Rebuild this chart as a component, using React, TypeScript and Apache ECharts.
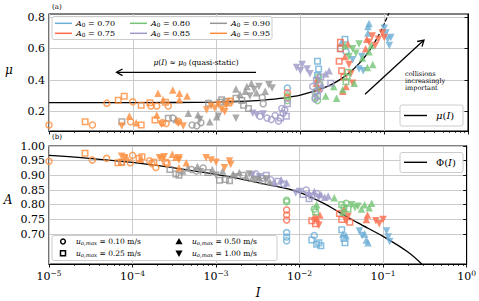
import React, { useEffect, useRef } from 'react';
import * as echarts from 'echarts';

type Pt = [number, number, string];

const A0_LABELS = ['0.70', '0.75', '0.80', '0.85', '0.90', '0.95'];
const COLORS = ['#6baed6', '#fb6a4a', '#74c476', '#9e9ac8', '#969696', '#fd8d3c'];
const U_LABELS = ['0.10', '0.25', '0.50', '1.00'];
const U_MARKERS = ['o', 's', '^', 'v'];

// ---- friction coefficient mu (top panel) ----
const MU_070: Pt[] = [
  [7.0e-3, 0.35, 'o'], [1.6e-2, 0.52, 's'], [1.65e-2, 0.47, 's'], [1.6e-2, 0.43, 's'],
  [3.0e-2, 0.6, 's'], [3.1e-2, 0.64, '^'], [3.4e-2, 0.66, 's'], [3.5e-2, 0.58, 'o'],
  [4.2e-2, 0.53, 'v'], [5.0e-2, 0.47, 'v'], [5.6e-2, 0.46, 'v'], [5.4e-2, 0.55, 'v'],
  [6.4e-2, 0.74, '^'], [6.4e-2, 0.7, '^'], [6.6e-2, 0.76, '^'],
  [1.05e-1, 0.7, 'v'], [1.1e-1, 0.66, 'v'], [1.15e-1, 0.62, 'v'], [1.2e-1, 0.67, 'v'], [1.0e-1, 0.73, 'v'],
];
const MU_075: Pt[] = [
  [7.0e-3, 0.29, 'o'], [7.0e-3, 0.32, 'o'], [1.55e-2, 0.38, '^'], [1.6e-2, 0.41, '^'], [1.65e-2, 0.35, '^'],
  [2.9e-2, 0.52, 's'], [3.0e-2, 0.6, 's'], [3.1e-2, 0.46, 's'], [3.3e-2, 0.42, 's'], [3.0e-2, 0.64, 's'],
  [3.4e-2, 0.55, '^'], [3.5e-2, 0.36, '^'], [3.7e-2, 0.63, '^'], [3.8e-2, 0.5, 'v'], [4.0e-2, 0.44, 'v'],
  [4.2e-2, 0.38, 'v'], [3.2e-2, 0.33, '^'], [6.0e-2, 0.6, '^'], [6.2e-2, 0.66, '^'],
  [6.6e-2, 0.64, 'v'], [7.2e-2, 0.68, 'v'], [7.8e-2, 0.62, 'v'], [8.5e-2, 0.66, 'v'], [9.5e-2, 0.7, 'v'], [1.0e-1, 0.67, 'v'],
];
const MU_080: Pt[] = [
  [7.0e-3, 0.30, 'o'], [7.0e-3, 0.27, 'o'], [1.5e-2, 0.29, 'o'], [1.55e-2, 0.33, 'o'], [1.6e-2, 0.27, 'o'],
  [1.65e-2, 0.42, 'o'], [1.7e-2, 0.37, 's'], [2.0e-2, 0.3, '^'], [2.5e-2, 0.36, '^'], [2.7e-2, 0.285, '^'],
  [3.2e-2, 0.34, '^'], [3.5e-2, 0.39, 's'], [3.6e-2, 0.42, 's'], [3.7e-2, 0.45, 's'], [3.4e-2, 0.62, '^'],
  [3.8e-2, 0.55, 'v'], [4.2e-2, 0.6, 'v'], [4.6e-2, 0.57, 'v'], [5.0e-2, 0.63, 'v'], [5.5e-2, 0.54, '^'],
  [4.4e-2, 0.38, '^'], [6.3e-2, 0.48, '^'], [6.6e-2, 0.58, '^'], [7.0e-2, 0.62, '^'], [7.3e-2, 0.5, '^'],
];
const MU_085: Pt[] = [
  [2.7e-3, 0.19, 'v'], [3.0e-3, 0.18, 'v'], [3.3e-3, 0.17, 'o'], [3.6e-3, 0.185, 'v'], [4.0e-3, 0.16, 'o'],
  [4.5e-3, 0.15, 'o'], [5.0e-3, 0.175, 'o'], [5.5e-3, 0.14, 'o'], [5.8e-3, 0.16, 's'], [6.2e-3, 0.19, 'o'],
  [6.5e-3, 0.21, 'o'], [7.0e-3, 0.25, 's'], [6.8e-3, 0.17, 's'], [6.0e-3, 0.22, 'o'],
  [9.0e-3, 0.48, 'v'], [1.0e-2, 0.46, 'v'], [1.05e-2, 0.5, 'v'], [1.2e-2, 0.47, 'v'], [1.3e-2, 0.44, 'v'],
  [1.4e-2, 0.36, 'o'], [1.5e-2, 0.32, 'o'], [1.55e-2, 0.4, 's'], [1.6e-2, 0.3, 's'], [1.7e-2, 0.34, 'o'],
  [1.75e-2, 0.42, 's'], [1.8e-2, 0.37, '^'], [2.0e-2, 0.44, '^'], [2.2e-2, 0.46, '^'], [2.3e-2, 0.38, 's'], [1.5e-2, 0.28, 'o'],
];
const MU_090: Pt[] = [
  [7.4e-5, 0.136, 's'], [2.65e-4, 0.158, 's'], [3.0e-4, 0.16, 'o'], [3.3e-4, 0.15, '^'], [4.6e-4, 0.19, '^'],
  [5.1e-4, 0.115, 'o'], [5.8e-4, 0.11, 'o'], [6.0e-4, 0.18, '^'], [6.3e-4, 0.15, 'v'], [6.5e-4, 0.13, 'o'],
  [8.0e-4, 0.254, 's'], [8.3e-4, 0.136, '^'], [1.0e-3, 0.168, '^'], [1.05e-3, 0.17, 'v'], [1.1e-3, 0.26, 's'],
  [1.15e-3, 0.275, 's'], [1.3e-3, 0.264, 's'], [1.7e-3, 0.343, '^'], [1.7e-3, 0.285, 's'], [1.7e-3, 0.158, 'v'],
  [1.9e-3, 0.31, '^'], [2.0e-3, 0.27, 's'], [2.1e-3, 0.24, 's'], [2.2e-3, 0.33, '^'], [2.3e-3, 0.36, '^'],
  [2.4e-3, 0.22, 's'], [2.5e-3, 0.30, 'v'], [2.6e-3, 0.38, '^'], [2.8e-3, 0.34, 'v'], [3.0e-3, 0.32, '^'],
  [3.2e-3, 0.36, 'v'], [3.5e-3, 0.29, 'o'], [3.6e-3, 0.25, 'o'], [3.8e-3, 0.33, '^'], [4.2e-3, 0.37, 'v'], [4.6e-3, 0.35, 'v'],
];
const MU_095: Pt[] = [
  [1.0e-5, 0.115, 'o'], [2.7e-5, 0.136, 's'], [3.3e-5, 0.115, 'o'], [4.9e-5, 0.254, 'o'], [6.7e-5, 0.272, 's'],
  [7.9e-5, 0.298, 's'], [7.4e-5, 0.108, 'v'], [9.1e-5, 0.173, '^'], [9.4e-5, 0.136, 'o'], [1.0e-4, 0.262, 'o'],
  [1.1e-4, 0.13, '^'], [1.26e-4, 0.115, 's'], [1.26e-4, 0.24, 's'], [1.6e-4, 0.257, 's'], [1.65e-4, 0.236, 'o'],
  [1.84e-4, 0.147, 's'], [1.93e-4, 0.236, 'o'], [1.93e-4, 0.178, '^'], [2.0e-4, 0.317, '^'], [2.2e-4, 0.12, 'v'],
  [2.26e-4, 0.13, 'o'], [2.3e-4, 0.275, '^'], [2.45e-4, 0.26, 's'], [2.5e-4, 0.125, 'o'], [2.65e-4, 0.236, 'o'],
  [3.0e-4, 0.338, '^'], [3.5e-4, 0.126, 'v'], [3.5e-4, 0.138, 'o'], [3.6e-4, 0.317, '^'], [3.6e-4, 0.275, '^'],
  [4.0e-4, 0.109, 'v'], [4.45e-4, 0.30, '^'], [7.6e-4, 0.21, 'v'], [8.6e-4, 0.235, 'v'], [9.5e-4, 0.222, 'v'],
  [1.05e-3, 0.245, 'v'], [1.15e-3, 0.215, 'v'], [1.25e-3, 0.2, 'v'], [1.3e-3, 0.24, 'v'], [1.4e-3, 0.255, 's'], [1.45e-3, 0.268, 's'],
];

// ---- solid fraction A (bottom panel) ----
const A_070: Pt[] = [
  [7.0e-3, 0.705, 'o'], [7.0e-3, 0.69, 'o'], [7.0e-3, 0.677, 'o'], [1.4e-2, 0.68, 's'], [1.5e-2, 0.695, 'o'],
  [1.6e-2, 0.665, 's'], [1.7e-2, 0.67, 's'], [1.8e-2, 0.66, 's'], [3.2e-2, 0.715, 's'], [3.3e-2, 0.70, '^'],
  [3.4e-2, 0.685, 's'], [3.5e-2, 0.67, 's'], [3.6e-2, 0.695, '^'], [5.2e-2, 0.71, 'v'], [5.6e-2, 0.695, 'v'],
  [6.0e-2, 0.70, '^'], [6.3e-2, 0.68, '^'], [6.6e-2, 0.67, '^'], [1.1e-1, 0.71, 'v'], [1.15e-1, 0.69, 'v'], [1.2e-1, 0.675, 'v'],
];
const A_075: Pt[] = [
  [7.0e-3, 0.782, 'o'], [7.0e-3, 0.765, 'o'], [7.0e-3, 0.748, 'o'], [1.4e-2, 0.745, 's'], [1.5e-2, 0.76, '^'],
  [1.55e-2, 0.735, 's'], [1.6e-2, 0.755, '^'], [1.7e-2, 0.73, 'v'], [1.75e-2, 0.765, '^'], [3.0e-2, 0.77, 's'],
  [3.2e-2, 0.75, 's'], [3.4e-2, 0.785, '^'], [3.6e-2, 0.745, 'v'], [3.8e-2, 0.76, 'v'], [4.0e-2, 0.74, 's'],
  [6.3e-2, 0.75, '^'], [6.5e-2, 0.765, '^'], [8.2e-2, 0.745, 'v'], [9.0e-2, 0.735, 'v'], [1.0e-1, 0.75, 'v'],
];
const A_080: Pt[] = [
  [7.0e-3, 0.81, 'o'], [7.0e-3, 0.815, 'o'], [1.5e-2, 0.785, 'o'], [1.55e-2, 0.775, 's'], [1.6e-2, 0.8, '^'],
  [2.6e-2, 0.824, '^'], [3.2e-2, 0.80, 's'], [3.4e-2, 0.79, 's'], [3.6e-2, 0.805, 'o'], [3.8e-2, 0.785, 's'],
  [4.2e-2, 0.8, 'v'], [4.6e-2, 0.79, 'v'], [5.0e-2, 0.795, 'v'], [5.5e-2, 0.785, '^'], [6.0e-2, 0.8, '^'],
  [6.8e-2, 0.79, '^'], [7.3e-2, 0.805, '^'], [3.3e-2, 0.775, '^'],
];
const A_085: Pt[] = [
  [2.7e-3, 0.9, 'v'], [3.0e-3, 0.905, 'o'], [3.3e-3, 0.895, 'v'], [3.6e-3, 0.89, 'o'], [4.0e-3, 0.9, 's'],
  [4.5e-3, 0.885, 'o'], [5.0e-3, 0.875, '^'], [5.5e-3, 0.88, 's'], [6.0e-3, 0.885, '^'], [6.5e-3, 0.87, 'o'],
  [7.0e-3, 0.875, '^'], [9.0e-3, 0.84, 'v'], [1.0e-2, 0.845, 'v'], [1.1e-2, 0.835, 's'], [1.2e-2, 0.85, 'o'],
  [1.3e-2, 0.84, '^'], [1.4e-2, 0.83, 's'], [1.5e-2, 0.845, '^'], [1.6e-2, 0.838, 'o'], [1.7e-2, 0.825, 'v'],
  [1.8e-2, 0.835, '^'], [2.0e-2, 0.825, '^'], [2.2e-2, 0.83, '^'], [1.3e-2, 0.82, 's'],
];
const A_090: Pt[] = [
  [7.4e-5, 0.945, 's'], [2.8e-4, 0.92, 's'], [3.3e-4, 0.905, 's'], [3.6e-4, 0.90, 's'], [4.0e-4, 0.915, '^'],
  [4.6e-4, 0.925, '^'], [5.1e-4, 0.92, 'o'], [5.8e-4, 0.915, 'o'], [6.0e-4, 0.93, '^'], [6.5e-4, 0.912, 'v'],
  [7.0e-4, 0.925, 'o'], [8.0e-4, 0.91, 's'], [9.0e-4, 0.92, '^'], [1.0e-3, 0.9, 'v'], [1.1e-3, 0.883, 's'],
  [1.2e-3, 0.915, '^'], [1.3e-3, 0.886, 's'], [1.45e-3, 0.882, 's'], [1.6e-3, 0.905, '^'], [1.7e-3, 0.895, 'v'],
  [1.9e-3, 0.91, '^'], [2.1e-3, 0.9, 's'], [2.3e-3, 0.895, '^'], [2.5e-3, 0.905, 'v'], [2.7e-3, 0.89, '^'],
  [3.0e-3, 0.885, 'v'], [3.3e-3, 0.893, '^'], [3.6e-3, 0.88, 'o'], [4.0e-3, 0.888, 'v'], [4.4e-3, 0.878, '^'],
];
const A_095: Pt[] = [
  [1.0e-5, 0.948, 'o'], [2.7e-5, 0.975, 's'], [3.3e-5, 0.952, 'o'], [4.9e-5, 0.958, 'o'], [6.7e-5, 0.943, 's'],
  [7.4e-5, 0.945, 's'], [7.4e-5, 0.965, 'v'], [8.0e-5, 0.96, 'v'], [8.5e-5, 0.962, '^'], [9.4e-5, 0.943, 'o'],
  [1.0e-4, 0.968, 'o'], [1.2e-4, 0.958, 's'], [1.3e-4, 0.963, 's'], [1.25e-4, 0.955, '^'], [1.6e-4, 0.95, 'o'],
  [1.7e-4, 0.94, 'o'], [1.8e-4, 0.945, 's'], [1.9e-4, 0.927, 'o'], [2.1e-4, 0.96, 'v'], [2.25e-4, 0.955, 'v'],
  [2.4e-4, 0.963, 'v'], [2.5e-4, 0.945, 's'], [2.6e-4, 0.94, 'o'], [3.0e-4, 0.972, '^'], [3.3e-4, 0.962, '^'],
  [3.6e-4, 0.96, 'v'], [3.6e-4, 0.952, 'v'], [3.6e-4, 0.926, '^'], [4.4e-4, 0.943, '^'], [7.6e-4, 0.96, 'v'],
  [8.7e-4, 0.952, 'v'], [1.0e-3, 0.945, 'v'], [1.26e-3, 0.926, 'v'], [1.45e-3, 0.949, 'v'], [1.5e-3, 0.937, 'v'],
];

const MU_SETS = [MU_070, MU_075, MU_080, MU_085, MU_090, MU_095];
const A_SETS = [A_070, A_075, A_080, A_085, A_090, A_095];

// fitted laws
const MU_FIT: [number, number][] = [
  [1e-5, 0.257], [1e-4, 0.257], [1e-3, 0.261], [3e-3, 0.27], [6e-3, 0.286], [1e-2, 0.305], [2e-2, 0.355],
  [3e-2, 0.405], [4e-2, 0.455], [5e-2, 0.505], [6e-2, 0.555], [7e-2, 0.605],
];
const MU_FIT_EXT: [number, number][] = [[7e-2, 0.605], [8.5e-2, 0.68], [1e-1, 0.757], [1.15e-1, 0.832]];
const PHI_FIT: [number, number][] = [
  [1e-5, 0.968], [3e-5, 0.958], [1e-4, 0.944], [3e-4, 0.926], [1e-3, 0.903], [3e-3, 0.877], [6e-3, 0.859],
  [1e-2, 0.842], [2e-2, 0.803], [3e-2, 0.774], [5e-2, 0.738], [1e-1, 0.692], [2e-1, 0.638], [3e-1, 0.594],
];

const MU_TICKS = [0.2, 0.4, 0.6, 0.8];
const A_TICKS = [0.7, 0.75, 0.8, 0.85, 0.9, 0.95, 1.0];

const FONT = 'DejaVu Serif';

const MARK: Record<string, { symbol: string; size: number; hollow: boolean; rot: number }> = {
  o: { symbol: 'circle', size: 6, hollow: true, rot: 0 },
  s: { symbol: 'rect', size: 5.5, hollow: true, rot: 0 },
  '^': { symbol: 'triangle', size: 7.5, hollow: false, rot: 0 },
  v: { symbol: 'triangle', size: 7.5, hollow: false, rot: 180 },
};

function toItems(pts: Pt[], color: string) {
  return pts.map(([I, y, m]) => {
    const k = MARK[m];
    return {
      value: [Math.log10(I), y],
      symbol: k.symbol,
      symbolSize: k.size,
      symbolRotate: k.rot,
      itemStyle: k.hollow
        ? { color: 'rgba(255,255,255,0)', borderColor: color, borderWidth: 1.5 }
        : { color, borderColor: color, borderWidth: 0 },
    };
  });
}

const minorTicks: number[] = [];
for (let n = -5; n < 0; n++) for (let k = 2; k <= 9; k++) minorTicks.push(n + Math.log10(k));

export default function App() {
  const ref = useRef<HTMLDivElement>(null);
  useEffect(() => {
    if (!ref.current) return;
    const chart = echarts.init(ref.current, undefined, { renderer: 'svg' });
    const grid = '#cbcbcb';
    const majorX = (gi: number, labels: boolean) => ({
      gridIndex: gi, type: 'value', min: -5, max: 0, interval: 1,
      axisLine: { show: true, lineStyle: { color: '#000', width: 1 } },
      axisTick: { show: true, length: 3.5, lineStyle: { color: '#000', width: 0.9 } },
      splitLine: { show: true, lineStyle: { color: grid, width: 1 } },
      axisLabel: labels
        ? {
            show: true, margin: 5, color: '#000',
            formatter: (v: number) => `{b|10}{s|${v === 0 ? '0' : '−' + Math.abs(v)}}`,
            rich: {
              b: { fontFamily: FONT, fontSize: 11, color: '#000' },
              s: { fontFamily: FONT, fontSize: 7.5, color: '#000', padding: [0, 0, 7, 0] },
            },
          }
        : { show: false },
    });
    const minorX = (gi: number) => ({
      gridIndex: gi, type: 'value', min: -5, max: 0, position: 'bottom',
      axisLine: { show: false },
      axisTick: { show: true, length: 2, customValues: minorTicks, lineStyle: { color: '#000', width: 0.7 } },
      axisLabel: { show: false },
      splitLine: { show: false },
    });
    const yLab = { color: '#000', fontFamily: FONT, fontSize: 11, margin: 4 };
    const series: any[] = [];
    const curve = (data: [number, number][], xi: number, yi: number, dashed: boolean) => ({
      type: 'line', xAxisIndex: xi, yAxisIndex: yi, data: data.map(([i, v]) => [Math.log10(i), v]),
      showSymbol: false, symbol: 'none', smooth: 0.35,
      lineStyle: { color: '#000', width: 1.3, type: dashed ? [4, 2] : 'solid' }, z: 1, silent: true,
    });
    series.push(curve(MU_FIT, 0, 0, false));
    series.push(curve(MU_FIT_EXT, 0, 0, true));
    series.push(curve(PHI_FIT, 2, 1, false));
    A0_LABELS.forEach((lab, i) => {
      series.push({ type: 'scatter', name: 'A0 = ' + lab, xAxisIndex: 0, yAxisIndex: 0, data: toItems(MU_SETS[i], COLORS[i]), z: 2 + i, silent: true });
      series.push({ type: 'scatter', name: 'A0 = ' + lab, xAxisIndex: 2, yAxisIndex: 1, data: toItems(A_SETS[i], COLORS[i]), z: 2 + i, silent: true });
    });

    const txt = (x: number, y: number, text: string, rich: any, extra: any = {}) => ({
      type: 'text', x, y, z: 100,
      style: { text, rich, fill: '#000', fontFamily: FONT, align: 'left', verticalAlign: 'middle', ...extra },
    });
    const r = (fs: number) => ({
      i: { fontFamily: FONT, fontStyle: 'italic', fontSize: fs, color: '#000' },
      n: { fontFamily: FONT, fontSize: fs, color: '#000' },
      sub: { fontFamily: FONT, fontSize: fs * 0.72, color: '#000', padding: [fs * 0.45, 0, 0, 0] },
      subi: { fontFamily: FONT, fontStyle: 'italic', fontSize: fs * 0.72, color: '#000', padding: [fs * 0.45, 0, 0, 0] },
    });
    const graphics: any[] = [];
    // A0 legend
    graphics.push({ type: 'rect', shape: { x: 52, y: 16.5, width: 220, height: 23, r: 2 }, style: { fill: 'rgba(255,255,255,0.85)', stroke: '#cccccc', lineWidth: 1 }, z: 90 });
    const colX = [55, 130, 210];
    const rowY = [23.3, 33.3];
    A0_LABELS.forEach((lab, i) => {
      const c = Math.floor(i / 2), rr = i % 2;
      graphics.push({ type: 'line', shape: { x1: colX[c], y1: rowY[rr], x2: colX[c] + 17, y2: rowY[rr] }, style: { stroke: COLORS[i], lineWidth: 1.5 }, z: 95 });
      graphics.push(txt(colX[c] + 21, rowY[rr], `{i|A}{sub|0}{n| = ${lab}}`, r(8)));
    });
    // mu(I) legend
    graphics.push({ type: 'rect', shape: { x: 400, y: 105, width: 63, height: 21, r: 2 }, style: { fill: 'rgba(255,255,255,0.85)', stroke: '#cccccc', lineWidth: 1 }, z: 90 });
    graphics.push({ type: 'line', shape: { x1: 404, y1: 115.5, x2: 427, y2: 115.5 }, style: { stroke: '#000', lineWidth: 1.4 }, z: 95 });
    graphics.push(txt(436, 115.5, '{i|μ}{n|(}{i|I}{n|)}', r(10)));
    // Phi(I) legend
    graphics.push({ type: 'rect', shape: { x: 400, y: 152.5, width: 63, height: 20, r: 2 }, style: { fill: 'rgba(255,255,255,0.85)', stroke: '#cccccc', lineWidth: 1 }, z: 90 });
    graphics.push({ type: 'line', shape: { x1: 404, y1: 162.3, x2: 427, y2: 162.3 }, style: { stroke: '#000', lineWidth: 1.4 }, z: 95 });
    graphics.push(txt(436, 162.3, '{n|Φ(}{i|I}{n|)}', r(10)));
    // marker legend
    graphics.push({ type: 'rect', shape: { x: 52, y: 235.5, width: 225, height: 25, r: 2 }, style: { fill: 'rgba(255,255,255,0.85)', stroke: '#cccccc', lineWidth: 1 }, z: 90 });
    const mPos = [[63, 241.5], [63, 253.3], [179, 241.5], [179, 253.3]];
    U_LABELS.forEach((lab, i) => {
      const [mx, my] = mPos[i];
      const m = U_MARKERS[i];
      if (m === 'o') graphics.push({ type: 'circle', shape: { cx: mx, cy: my, r: 2.4 }, style: { fill: 'none', stroke: '#000', lineWidth: 1.5 }, z: 95 });
      else if (m === 's') graphics.push({ type: 'rect', shape: { x: mx - 2.5, y: my - 2.5, width: 5, height: 5 }, style: { fill: 'none', stroke: '#000', lineWidth: 1.5 }, z: 95 });
      else if (m === '^') graphics.push({ type: 'polygon', shape: { points: [[mx, my - 3.6], [mx + 3.6, my + 2.8], [mx - 3.6, my + 2.8]] }, style: { fill: '#000' }, z: 95 });
      else graphics.push({ type: 'polygon', shape: { points: [[mx, my + 3.6], [mx + 3.6, my - 2.8], [mx - 3.6, my - 2.8]] }, style: { fill: '#000' }, z: 95 });
      graphics.push(txt(mx + 13, my, `{i|u}{subi|o,max}{n| = ${lab} m/s}`, r(7.5)));
    });
    // panel tags
    graphics.push(txt(52, 6.5, '{n|(a)}', r(7)));
    graphics.push(txt(52, 136.5, '{n|(b)}', r(7)));
    // quasi-static annotation
    graphics.push(txt(196, 62, '{i|μ}{n|(}{i|I}{n|) ≈ }{i|μ}{sub|0}{n| (quasi-static)}', r(7.5), { align: 'center' }));
    graphics.push({ type: 'line', shape: { x1: 256, y1: 72.3, x2: 117, y2: 72.3 }, style: { stroke: '#000', lineWidth: 1.3 }, z: 95 });
    graphics.push({ type: 'polyline', shape: { points: [[122.5, 69], [116.5, 72.3], [122.5, 75.6]] }, style: { stroke: '#000', lineWidth: 1.3, fill: 'none' }, z: 95 });
    // collisions arrow
    graphics.push({ type: 'line', shape: { x1: 365, y1: 94.3, x2: 423.5, y2: 40.5 }, style: { stroke: '#000', lineWidth: 1.3 }, z: 95 });
    graphics.push({ type: 'polyline', shape: { points: [[417.2, 41.5], [424, 40], [422, 46.6]] }, style: { stroke: '#000', lineWidth: 1.3, fill: 'none' }, z: 95 });
    graphics.push({ type: 'text', x: 405, y: 70.3, z: 100, style: { text: 'collisions\nincreasingly\nimportant', fill: '#000', fontFamily: FONT, fontSize: 6.5, lineHeight: 7, align: 'left', verticalAlign: 'top' } });
    // axis labels
    graphics.push(txt(9, 70, '{i|μ}', r(12), { align: 'center' }));
    graphics.push(txt(8, 200, '{i|A}', r(12), { align: 'center' }));
    graphics.push(txt(258, 293, '{i|I}', r(12), { align: 'center' }));

    chart.setOption({
      animation: false,
      backgroundColor: '#fff',
      grid: [
        { left: 49, top: 14, width: 419, height: 117, show: true, borderColor: '#000', borderWidth: 1.1, backgroundColor: 'rgba(0,0,0,0)', z: 0 },
        { left: 49, top: 146, width: 419, height: 118, show: true, borderColor: '#000', borderWidth: 1.1, backgroundColor: 'rgba(0,0,0,0)', z: 0 },
      ],
      xAxis: [majorX(0, false), minorX(0), majorX(1, true), minorX(1)],
      yAxis: [
        {
          gridIndex: 0, type: 'value', min: 0.077, max: 0.82,
          axisLine: { show: true, lineStyle: { color: '#000' } },
          axisTick: { show: true, length: 3.5, customValues: MU_TICKS, lineStyle: { color: '#000', width: 0.9 } },
          axisLabel: { ...yLab, customValues: MU_TICKS, formatter: (v: number) => v.toFixed(1) },
          splitLine: { show: true, lineStyle: { color: grid, width: 1 } },
        },
        {
          gridIndex: 1, type: 'value', min: 0.598, max: 1.0,
          axisLine: { show: true, lineStyle: { color: '#000' } },
          axisTick: { show: true, length: 3.5, customValues: A_TICKS, lineStyle: { color: '#000', width: 0.9 } },
          axisLabel: { ...yLab, customValues: A_TICKS, formatter: (v: number) => v.toFixed(2) },
          splitLine: { show: true, lineStyle: { color: grid, width: 1 } },
        },
      ],
      series,
      graphic: graphics,
    });
    return () => chart.dispose();
  }, []);
  return <div ref={ref} style={{ position: 'fixed', left: 0, top: 0, width: 479, height: 301, background: '#fff' }} />;
}
